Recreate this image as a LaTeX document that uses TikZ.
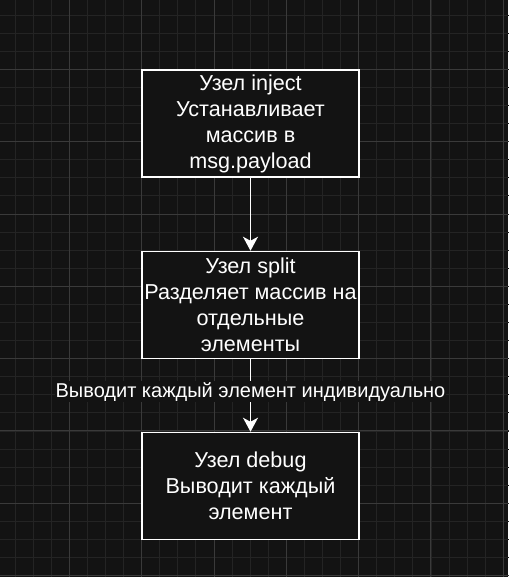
\documentclass[tikz,border=0pt]{standalone}
\usepackage{fontspec}
\setmainfont{Liberation Sans}
\usetikzlibrary{arrows.meta}
\definecolor{canvas}{HTML}{131313}
\definecolor{minorline}{HTML}{242424}
\definecolor{majorline}{HTML}{3A3A3A}
\begin{document}
\begin{tikzpicture}[x=1pt, y=-1pt,
  every node/.style={font=\fontsize{20}{24}\selectfont, text=white, align=center},
  box/.style={draw=white, fill=canvas, line width=1.5pt, minimum width=217pt, minimum height=107pt, inner sep=0pt, font=\fontsize{21.6}{26}\selectfont},
  arr/.style={draw=white, line width=1.5pt, -{Stealth[length=14pt, width=15pt, inset=4pt]}},
  lbl/.style={fill=canvas, inner sep=1pt}]
\useasboundingbox (0,0) rectangle (508,577);
\fill[canvas] (0,0) rectangle (508,577);
\begin{scope}[shift={(69.3,69.3)}]
\draw[step=18.08pt, color=minorline, line width=0.8pt] (-80,-80) grid (450,520);
\draw[step=72.3pt, color=majorline, line width=0.8pt] (-80,-80) grid (450,520);
\end{scope}

\node[box] (inject) at (250.5,123.5) {Узел inject\\Устанавливает\\массив в\\msg.payload};
\node[box] (split) at (250.5,305) {Узел split\\Разделяет массив на\\отдельные\\элементы};
\node[box] (debug) at (250.5,486) {Узел debug\\Выводит каждый\\элемент};

\draw[arr] (inject) -- (split);
\draw[arr] (split) -- (debug) node[lbl, pos=0.45] (each) {Выводит каждый элемент индивидуально};
\end{tikzpicture}
\end{document}
